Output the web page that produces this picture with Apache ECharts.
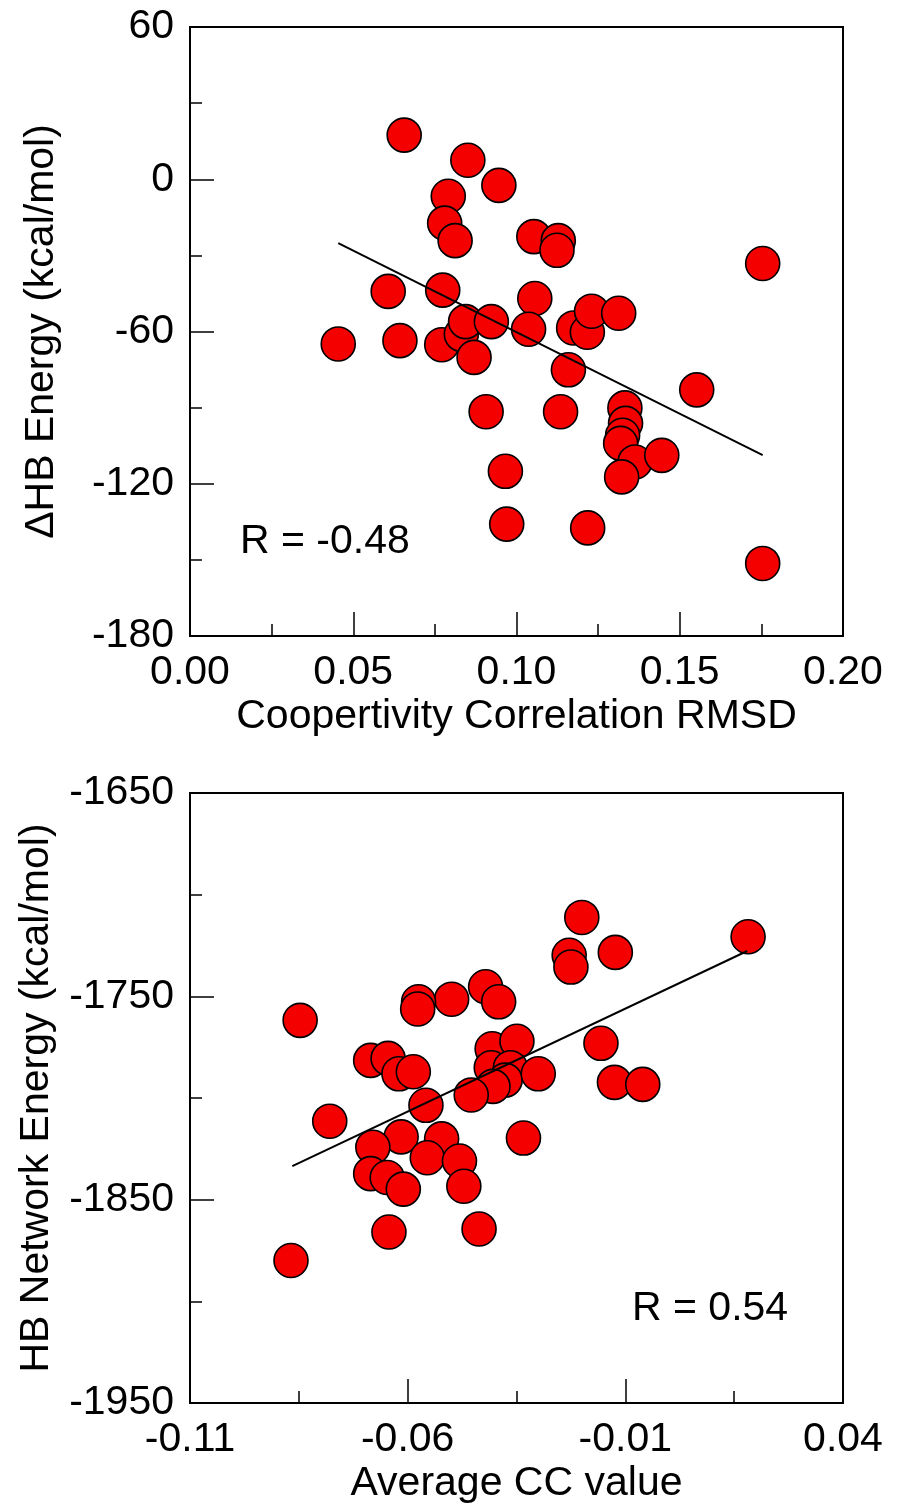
<!DOCTYPE html>
<html>
<head>
<meta charset="utf-8">
<script src="https://cdn.jsdelivr.net/npm/echarts@6/dist/echarts.min.js"></script>
<style>
html,body{margin:0;padding:0;background:#fff;}
#chart{width:897px;height:1506px;}
</style>
</head>
<body>
<div id="chart"></div>
<script>
// ---------- Top panel data ----------
const topXTicks = [0.00, 0.05, 0.10, 0.15, 0.20];
const topYTicks = [-180, -120, -60, 0, 60];
const topX = [0.0656, 0.0851, 0.0946, 0.0791, 0.0780, 0.0812, 0.1053, 0.1128, 0.1124, 0.1754,
              0.0607, 0.0774, 0.1056, 0.0454, 0.0643, 0.0771, 0.0831, 0.0844, 0.0870, 0.0923,
              0.1037, 0.1175, 0.1217, 0.1230, 0.1313, 0.1159, 0.1552, 0.0907, 0.1135, 0.1332,
              0.1334, 0.1325, 0.1319, 0.1363, 0.1445, 0.1322, 0.0966, 0.0970, 0.1218, 0.1754];
const topY = [17.4, 7.5, -2.4, -6.7, -17.3, -24.2, -22.6, -24.2, -28.0, -33.2,
              -44.2, -43.7, -47.0, -64.9, -63.6, -65.2, -61.1, -56.1, -70.2, -56.1,
              -59.1, -58.6, -60.3, -52.0, -52.8, -75.1, -83.0, -91.6, -91.6, -90.1,
              -96.2, -100.9, -104.1, -111.4, -108.8, -117.3, -115.1, -135.9, -137.4, -151.4];
const topFitX = [0.0454, 0.1754];
const topFitY = [-25.2, -108.7];
const topXName = 'Coopertivity Correlation RMSD';
const topYName = '\u0394HB Energy (kcal/mol)';
const topR = 'R = -0.48';

// ---------- Bottom panel data ----------
const botXTicks = [-0.11, -0.06, -0.01, 0.04];
const botYTicks = [-1950, -1850, -1750, -1650];
const botX = [-0.0200, 0.0182, -0.0229, -0.0225, -0.0123, -0.0421, -0.0391, -0.0499, -0.0575, -0.0577,
              -0.0847, -0.0406, -0.0349, -0.0156, -0.0685, -0.0645, -0.0620, -0.0587, -0.0408, -0.0364,
              -0.0376, -0.0404, -0.0300, -0.0125, -0.0060, -0.0454, -0.0558, -0.0779, -0.0615, -0.0522,
              -0.0334, -0.0680, -0.0555, -0.0481, -0.0685, -0.0647, -0.0610, -0.0471, -0.0643, -0.0436,
              -0.0868];
const botY = [-1711.2, -1720.7, -1729.8, -1735.6, -1728.4, -1745.3, -1752.7, -1751.4, -1752.7, -1756.2,
              -1761.8, -1775.8, -1772.1, -1773.1, -1781.5, -1780.5, -1788.1, -1787.1, -1785.1, -1785.1,
              -1791.2, -1794.3, -1788.1, -1792.3, -1793.3, -1798.5, -1803.6, -1811.4, -1819.1, -1820.1,
              -1819.7, -1824.2, -1829.4, -1831.0, -1837.2, -1839.1, -1844.8, -1843.4, -1865.9, -1864.4,
              -1879.9];
const botFitX = [-0.0865, 0.0180];
const botFitY = [-1833.5, -1727.7];
const botXName = 'Average CC value';
const botYName = 'HB Network Energy (kcal/mol)';
const botR = 'R = 0.54';

// ---------- helpers ----------
const FONT = "'Liberation Sans', Arial, Helvetica, sans-serif";
const FS = 41;
const zip = (a, b) => a.map((v, i) => [v, b[i]]);

function valueAxis(gridIndex, ticks, decimals, name, isX, yNameGap) {
  return {
    type: 'value',
    gridIndex: gridIndex,
    min: ticks[0],
    max: ticks[ticks.length - 1],
    interval: +(ticks[1] - ticks[0]).toFixed(6),
    axisLine: { show: true, onZero: false, lineStyle: { color: '#000', width: 2 } },
    axisTick: { show: true, inside: true, length: 24, lineStyle: { color: '#000', width: 1.5 } },
    minorTick: { show: true, splitNumber: 2, length: 12, lineStyle: { color: '#000', width: 1.5 } },
    splitLine: { show: false },
    minorSplitLine: { show: false },
    axisLabel: {
      color: '#000', fontSize: FS, fontFamily: FONT,
      margin: isX ? 16 : 16,
      formatter: v => Number(v).toFixed(decimals)
    },
    name: name,
    nameLocation: 'middle',
    nameGap: isX ? 60 : yNameGap,
    nameTextStyle: { color: '#000', fontSize: FS, fontFamily: FONT }
  };
}

const scatterStyle = { color: '#f50000', opacity: 1, borderColor: '#000', borderWidth: 1.6 };

const option = {
  animation: false,
  backgroundColor: '#fff',
  grid: [
    { left: 190, top: 27, width: 653, height: 609, show: true, borderColor: '#000', borderWidth: 2, backgroundColor: 'transparent' },
    { left: 190, top: 793, width: 653, height: 610, show: true, borderColor: '#000', borderWidth: 2, backgroundColor: 'transparent' }
  ],
  xAxis: [
    valueAxis(0, topXTicks, 2, topXName, true),
    valueAxis(1, botXTicks, 2, botXName, true)
  ],
  yAxis: [
    valueAxis(0, topYTicks, 0, topYName, false, 128),
    valueAxis(1, botYTicks, 0, botYName, false, 133)
  ],
  series: [
    { type: 'scatter', xAxisIndex: 0, yAxisIndex: 0, data: zip(topX, topY), symbolSize: 34, itemStyle: scatterStyle, z: 2 },
    { type: 'line', xAxisIndex: 0, yAxisIndex: 0, data: zip(topFitX, topFitY), symbol: 'none', lineStyle: { color: '#000', width: 2 }, z: 3 },
    { type: 'scatter', xAxisIndex: 1, yAxisIndex: 1, data: zip(botX, botY), symbolSize: 34, itemStyle: scatterStyle, z: 2 },
    { type: 'line', xAxisIndex: 1, yAxisIndex: 1, data: zip(botFitX, botFitY), symbol: 'none', lineStyle: { color: '#000', width: 2 }, z: 3 }
  ],
  graphic: [
    { type: 'text', left: 240, top: 521, style: { text: topR, fill: '#000', font: FS + 'px ' + FONT } },
    { type: 'text', left: 632, top: 1288, style: { text: botR, fill: '#000', font: FS + 'px ' + FONT } }
  ]
};

const chart = echarts.init(document.getElementById('chart'), null, { renderer: 'canvas' });
chart.setOption(option);
</script>
</body>
</html>
